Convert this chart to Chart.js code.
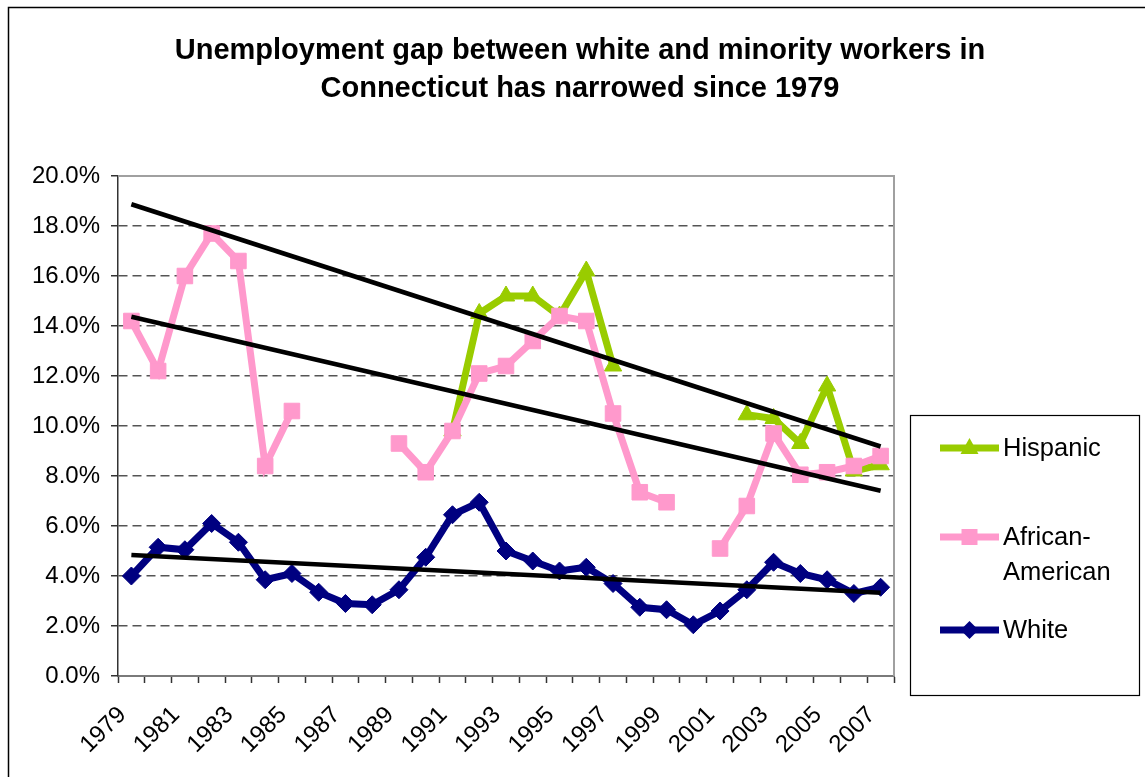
<!DOCTYPE html>
<html><head><meta charset="utf-8">
<script src="https://cdn.jsdelivr.net/npm/chart.js@4.4.0/dist/chart.umd.min.js"></script>
<style>html,body{margin:0;padding:0;background:#fff;overflow:hidden}canvas{display:block}</style>
</head><body>
<canvas id="c" width="1145" height="777"></canvas>
<script>
const years = ['1979','1980','1981','1982','1983','1984','1985','1986','1987','1988','1989','1990','1991','1992','1993','1994','1995','1996','1997','1998','1999','2000','2001','2002','2003','2004','2005','2006','2007'];
const hispanic = [null,null,null,null,null,null,null,null,null,null,null,null,9.8,14.5,15.2,15.2,14.4,16.2,12.4,null,null,null,null,10.45,10.3,9.3,11.6,8.2,8.45];
const africanAmerican = [14.2,12.2,16.0,17.7,16.6,8.4,10.6,null,null,null,9.3,8.15,9.8,12.1,12.4,13.4,14.4,14.2,10.5,7.35,6.95,null,5.1,6.8,9.7,8.05,8.15,8.4,8.8];
const white = [4.0,5.15,5.05,6.1,5.35,3.85,4.1,3.35,2.9,2.85,3.45,4.75,6.45,6.95,5.0,4.6,4.2,4.35,3.7,2.75,2.65,2.05,2.6,3.45,4.55,4.1,3.85,3.3,3.55];
const trendYears = ['1979','2007'];
const hispanicTrend = [18.87, 9.18];
const africanAmericanTrend = [14.37, 7.41];
const whiteTrend = [4.84, 3.33];
const titleLines = ['Unemployment gap between white and minority workers in','Connecticut has narrowed since 1979'];
const legendNames = ['Hispanic', 'African-\nAmerican', 'White'];

const GREEN = '#99CC00', PINK = '#FF99CC', NAVY = '#000080';
const FONT = "'Liberation Sans', Arial, sans-serif";
Chart.defaults.font.family = FONT;
Chart.defaults.color = '#000';

function trend(vals) {
  return trendYears.map((y, i) => ({x: y, y: vals[i]}));
}
function series(label, data, color, style, radius, order) {
  return {label, data, borderColor: color, backgroundColor: color, borderWidth: 7,
    pointStyle: style, pointRadius: radius, pointHoverRadius: radius, pointBorderWidth: 1,
    pointBorderColor: color, pointBackgroundColor: color, spanGaps: false, tension: 0, order};
}
function trendSet(data) {
  return {label: 'trend', data: trend(data), borderColor: '#000', borderWidth: 4.5, pointRadius: 0,
    pointHoverRadius: 0, tension: 0, order: 0, spanGaps: true};
}

const framePlugin = {
  id: 'frame',
  beforeDraw(chart) {
    const ctx = chart.ctx;
    ctx.save();
    ctx.fillStyle = '#fff';
    ctx.fillRect(0, 0, chart.width, chart.height);
    ctx.strokeStyle = '#000';
    ctx.lineWidth = 1.5;
    ctx.beginPath();
    ctx.moveTo(8.5, chart.height + 5);
    ctx.lineTo(8.5, 7.5);
    ctx.lineTo(chart.width + 5, 7.5);
    ctx.stroke();
    ctx.fillStyle = '#000';
    ctx.font = 'bold 29px ' + FONT;
    ctx.textAlign = 'center';
    ctx.textBaseline = 'alphabetic';
    ctx.fillText(titleLines[0], 580, 59);
    ctx.fillText(titleLines[1], 580, 97);
    ctx.restore();
  },
  beforeDatasetsDraw(chart) {
    const {ctx, chartArea: a} = chart;
    ctx.save();
    ctx.strokeStyle = '#a0a0a0';
    ctx.lineWidth = 2;
    ctx.beginPath();
    ctx.moveTo(a.left, a.top);
    ctx.lineTo(a.right, a.top);
    ctx.lineTo(a.right, a.bottom);
    ctx.stroke();
    ctx.restore();
  },
  afterDraw(chart) {
    const ctx = chart.ctx;
    ctx.save();
    ctx.strokeStyle = '#000';
    ctx.lineWidth = 1.2;
    ctx.strokeRect(910.5, 415.5, 229, 280);
    const items = [
      {name: legendNames[0], color: GREEN, style: 'triangle', y: 448},
      {name: legendNames[1], color: PINK, style: 'rect', y: 537},
      {name: legendNames[2], color: NAVY, style: 'rectRot', y: 630}
    ];
    ctx.font = '25.5px ' + FONT;
    ctx.textAlign = 'left';
    ctx.textBaseline = 'middle';
    items.forEach(it => {
      ctx.strokeStyle = it.color;
      ctx.fillStyle = it.color;
      ctx.lineWidth = 7;
      ctx.beginPath();
      ctx.moveTo(940, it.y);
      ctx.lineTo(999, it.y);
      ctx.stroke();
      const cx = 969.5, cy = it.y;
      ctx.beginPath();
      if (it.style === 'triangle') {
        ctx.moveTo(cx, cy - 10); ctx.lineTo(cx + 9, cy + 6); ctx.lineTo(cx - 9, cy + 6);
      } else if (it.style === 'rect') {
        ctx.rect(cx - 8, cy - 8, 16, 16);
      } else {
        ctx.moveTo(cx, cy - 9); ctx.lineTo(cx + 9, cy); ctx.lineTo(cx, cy + 9); ctx.lineTo(cx - 9, cy);
      }
      ctx.closePath();
      ctx.fill();
      ctx.fillStyle = '#000';
      const lines = it.name.split('\n');
      lines.forEach((ln, k) => ctx.fillText(ln, 1003, it.y + 1 + k * 35));
    });
    ctx.restore();
  }
};

new Chart(document.getElementById('c'), {
  type: 'line',
  data: {
    labels: years,
    datasets: [
      series('Hispanic', hispanic, GREEN, 'triangle', 10, 3),
      series('African-American', africanAmerican, PINK, 'rect', 11, 2),
      series('White', white, NAVY, 'rectRot', 9, 1),
      trendSet(hispanicTrend),
      trendSet(africanAmericanTrend),
      trendSet(whiteTrend)
    ]
  },
  options: {
    responsive: false,
    animation: false,
    devicePixelRatio: 1,
    layout: {padding: {left: 0, top: 176, right: 251, bottom: 0}},
    plugins: {legend: {display: false}, title: {display: false}, tooltip: {enabled: false}},
    scales: {
      x: {
        type: 'category',
        offset: true,
        afterFit: s => { s.height = 101; },
        grid: {offset: true, drawOnChartArea: false, drawTicks: true, tickLength: 7, tickColor: '#333', tickWidth: 1.5},
        border: {display: true, color: '#7a7a7a', width: 2},
        ticks: {
          autoSkip: false, minRotation: 45, maxRotation: 45, padding: 18, labelOffset: -9,
          font: {size: 24}, color: '#000',
          callback: function(v, i) { return i % 2 === 0 ? years[i] : ''; }
        }
      },
      y: {
        min: 0, max: 20,
        afterFit: s => { s.width = 118; },
        grid: {color: '#555', lineWidth: 1.5, drawTicks: true, tickLength: 7, tickColor: '#333', tickWidth: 1.5, tickBorderDash: []},
        border: {display: true, color: '#333', width: 1.5, dash: [9, 5]},
        ticks: {stepSize: 2, padding: 11, font: {size: 24}, color: '#000',
          callback: v => v.toFixed(1) + '%'}
      }
    }
  },
  plugins: [framePlugin]
});
</script>
</body></html>
